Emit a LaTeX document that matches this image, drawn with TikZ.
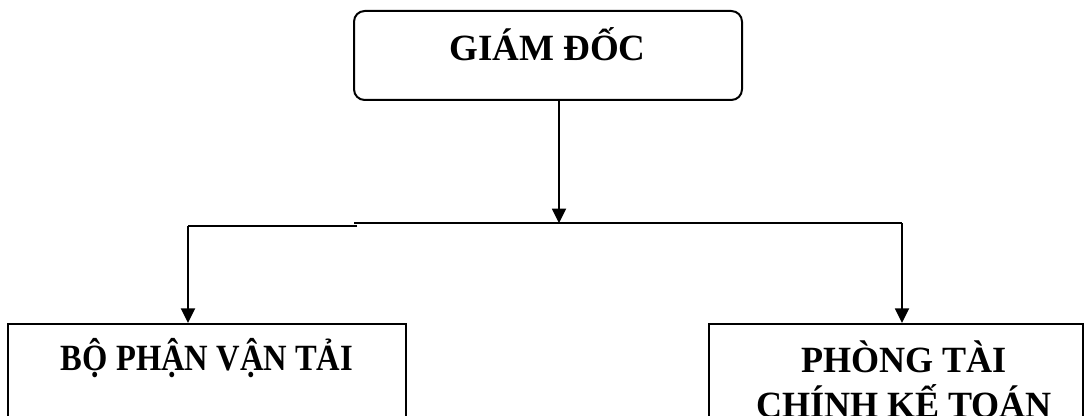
\documentclass[tikz,border=0pt]{standalone}
\usepackage{fontspec}
\setmainfont{Liberation Serif}
\usetikzlibrary{arrows.meta}
\tikzset{
  box/.style={draw=black, line width=1.5pt, fill=none, inner sep=0pt},
  title/.style={font=\bfseries\fontsize{27.75pt}{33pt}\selectfont, inner sep=0pt, anchor=base, align=center},
  link/.style={draw=black, line width=1.4pt},
  arr/.style={link, -{Triangle[length=11pt,width=10.5pt]}}
}
\begin{document}
\begin{tikzpicture}[x=0.75pt, y=-0.75pt]
\useasboundingbox (0,0) rectangle (1085,416);
% boxes
\node[box, rounded corners=8pt, minimum width=291pt, minimum height=66.75pt] (gd) at (548,55.5) {};
\node[box, minimum width=298.5pt, minimum height=90pt] (vt) at (207,384) {};
\node[box, minimum width=280.5pt, minimum height=90pt] (tc) at (895.5,384) {};
% titles
\node[title] (gdtxt) at (547.5,60.5) {GIÁM ĐỐC};
\node[title] (vttxt) at (207,371) {\scalebox{0.88}[1]{BỘ PHẬN VẬN TẢI}};
\node[title] (tctxt1) at (904,373) {\scalebox{0.975}[1]{PHÒNG TÀI}};
\node[title] (tctxt2) at (904,417) {\scalebox{0.975}[1]{CHÍNH KẾ TOÁN}};
% junction points
\coordinate (mid) at (559,223.3);
\coordinate (lbend) at (188,225.7);
\coordinate (lend) at (357,225.7);
\coordinate (rstart) at (354,223.3);
\coordinate (rbend) at (902,223.3);
% connectors
\draw[arr] (gd.south -| mid) -- (mid);
\draw[link] (rstart) -- (rbend);
\draw[link] (lend) -- (lbend);
\draw[arr] (lbend) -- (lbend |- vt.north);
\draw[arr] (rbend) -- (rbend |- tc.north);
\end{tikzpicture}
\end{document}
